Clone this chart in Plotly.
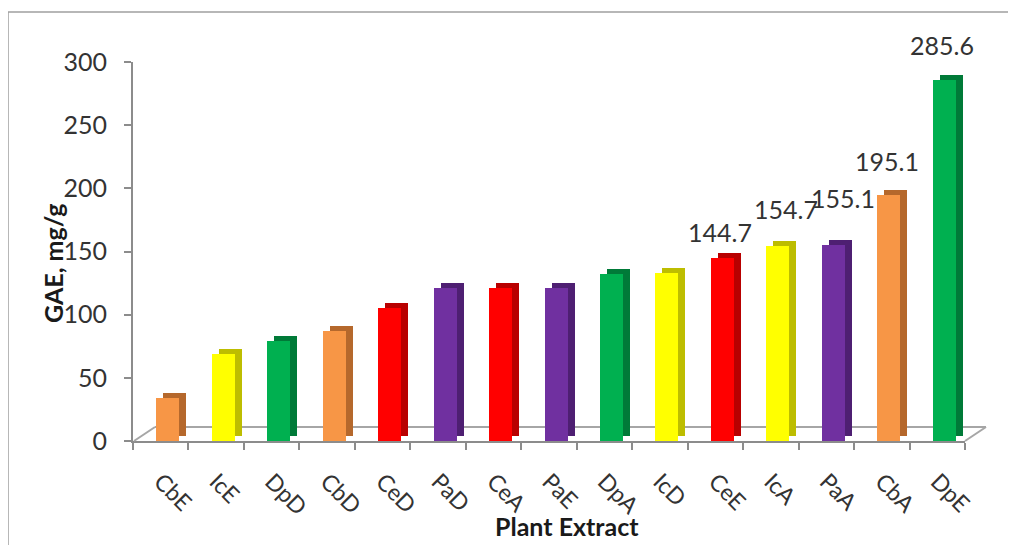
import plotly.graph_objects as go

categories = ["CbE", "IcE", "DpD", "CbD", "CeD", "PaD", "CeA", "PaE", "DpA", "IcD", "CeE", "IcA", "PaA", "CbA", "DpE"]
values = [34, 69, 79, 87, 105, 121, 121, 121, 132, 133, 144.7, 154.7, 155.1, 195.1, 285.6]
labelled = ["CeE", "IcA", "PaA", "CbA", "DpE"]
y_ticks = [0, 50, 100, 150, 200, 250, 300]

front_colors = {"Cb": "#F79646", "Ic": "#FFFF00", "Dp": "#00B050", "Ce": "#FF0000", "Pa": "#7030A0"}
side_colors = {"Cb": "#B5682C", "Ic": "#BDBD00", "Dp": "#007A38", "Ce": "#B80000", "Pa": "#4E1F72"}
# label placement tweaks (pixels): (xshift, yshift)
label_shift = {"CeE": (5, 9), "IcA": (15, 20), "PaA": (17, 30), "CbA": (5, 17), "DpE": (5, 18)}

# page body has an 8px margin; work in screen pixels and convert
OFF = 8
W, H = 1008, 537
ax_left, ax_right, ax_top, ax_bottom = 133, 965, 62, 441  # screen px
L = ax_left - OFF
T = ax_top - OFF
R = W - (ax_right - OFF)
B = H - (ax_bottom - OFF)
pw, ph = W - L - R, H - T - B
n = len(categories)
cat_px = pw / n
px_per_unit = ph / 300.0

bw = 0.415
depth_x = 7 / cat_px
depth_y = 5 / px_per_unit
front_off = -4.5 / cat_px


def sx(p):
    return (p - ax_left) / pw


def sy(p):
    return (ax_bottom - p) / ph


fig = go.Figure()
# side / top faces (3D look)
fig.add_trace(go.Bar(
    x=categories, y=values, base=[depth_y] * n,
    width=bw, offset=front_off + depth_x,
    marker=dict(color=[side_colors[c[:2]] for c in categories], line=dict(width=0)),
    hoverinfo="skip", showlegend=False,
))
# front faces
fig.add_trace(go.Bar(
    x=categories, y=values,
    width=bw, offset=front_off,
    marker=dict(color=[front_colors[c[:2]] for c in categories], line=dict(width=0)),
    showlegend=False,
))

# data labels
for c, v in zip(categories, values):
    if c in labelled:
        xs, ys = label_shift[c]
        fig.add_annotation(x=c, y=v, text=f"{v:.1f}", showarrow=False,
                           xanchor="center", yanchor="bottom", yshift=ys, xshift=xs,
                           font=dict(family="Lato", size=25, color="#333333"))

# outer frame
fig.add_shape(type="rect", xref="paper", yref="paper",
              x0=sx(8), x1=sx(1040), y0=sy(570), y1=sy(12),
              line=dict(color="#A0A0A0", width=1.5), layer="below")
# 3D floor
floor_col = "#A6A6A6"
fig.add_shape(type="line", xref="paper", yref="paper",
              x0=sx(134), y0=sy(441), x1=sx(155), y1=sy(427),
              line=dict(color=floor_col, width=2))
fig.add_shape(type="line", xref="paper", yref="paper",
              x0=sx(155), y0=sy(427), x1=sx(986), y1=sy(427),
              line=dict(color=floor_col, width=2), layer="below")
fig.add_shape(type="line", xref="paper", yref="paper",
              x0=sx(986), y0=sy(427), x1=sx(965), y1=sy(441),
              line=dict(color=floor_col, width=2))

# axis titles
fig.add_annotation(xref="paper", yref="paper", x=sx(567), y=sy(526),
                   xanchor="center", yanchor="middle",
                   text="<b>Plant Extract</b>", showarrow=False,
                   font=dict(family="Lato", size=25, color="#1a1a1a"))
fig.add_annotation(xref="paper", yref="paper", x=sx(53), y=sy(263),
                   xanchor="center", yanchor="middle",
                   text="<b>GAE, mg/g</b>", showarrow=False, textangle=-90,
                   font=dict(family="Lato", size=25, color="#1a1a1a"))

fig.update_layout(
    width=W, height=H,
    margin=dict(l=L, r=R, t=T, b=B, autoexpand=False),
    paper_bgcolor="white", plot_bgcolor="white",
    barmode="overlay", bargap=0,
    showlegend=False,
)
fig.update_xaxes(
    type="category", range=[-0.5, n - 0.5], autorange=False,
    showgrid=False, showline=True, linecolor="#8C8C8C", linewidth=2,
    ticks="outside", tickson="boundaries", ticklen=7, tickcolor="#8C8C8C", tickwidth=2,
    tickangle=45, ticklabelstandoff=16,
    tickfont=dict(family="Lato", size=23, color="#333333"),
)
fig.update_yaxes(
    range=[0, 300], tickvals=y_ticks, showgrid=False, zeroline=False,
    showline=True, linecolor="#8C8C8C", linewidth=2,
    ticks="outside", ticklen=7, tickcolor="#8C8C8C", tickwidth=2,
    ticklabelstandoff=12,
    tickfont=dict(family="Lato", size=25, color="#333333"),
)

fig.write_html("out.html")
